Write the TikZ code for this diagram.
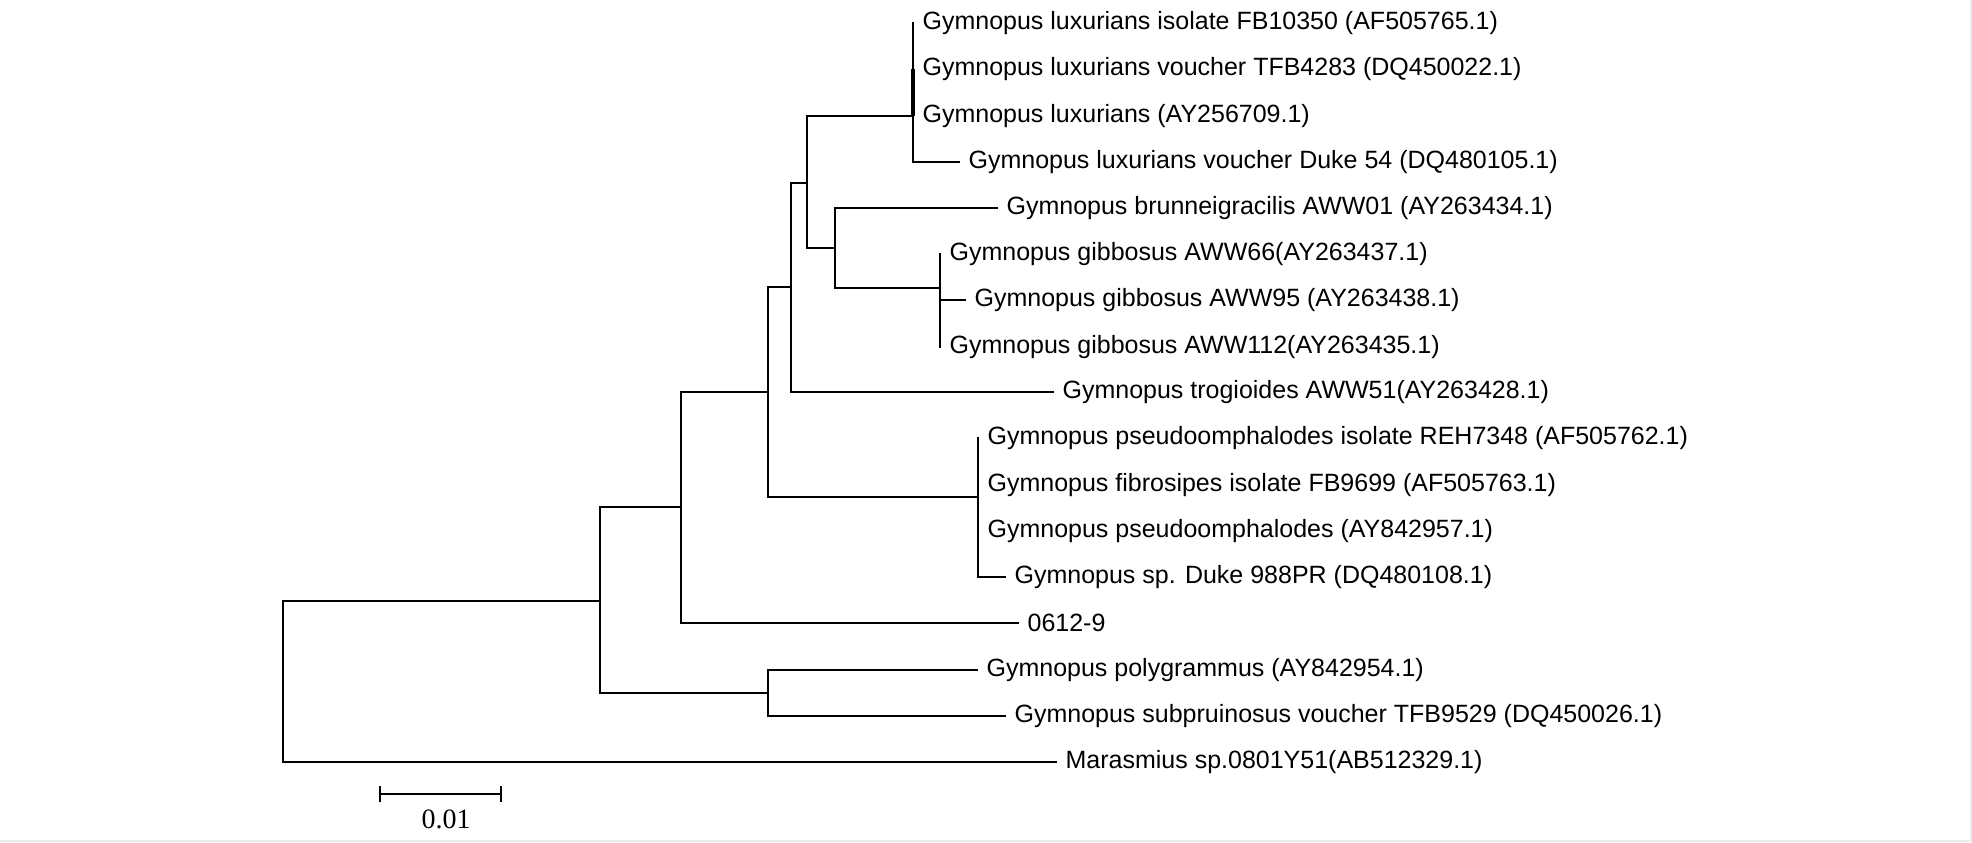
\documentclass[tikz,border=0pt]{standalone}
\usepackage{fontspec}
\setmainfont{Liberation Sans}
\newfontfamily\barfont{Liberation Serif}
\usepackage{tikz}
\usetikzlibrary{arrows.meta}

\tikzset{
  taxon/.style={anchor=west, inner xsep=4.6pt, inner ysep=0pt, font=\fontsize{12.5}{14}\selectfont},
  branch/.style={line width=0.8pt, line cap=rect}
}

\begin{document}
\begin{tikzpicture}[x=0.5pt, y=-0.5pt]
            \useasboundingbox (0,0) rectangle (1972,842);
            \draw[black!8, line width=0.8pt] (0,841) -- (1971,841) -- (1971,0);

            % inner nodes of the tree
            \coordinate (root) at (283,681);
            \coordinate (A) at (600,601);
            \coordinate (B) at (681,507);
            \coordinate (C) at (768,392);
            \coordinate (D) at (791,287);
            \coordinate (E) at (807,183);
            \coordinate (F) at (835,248);
            \coordinate (G) at (940,288);
            \coordinate (L) at (913,116);
            \coordinate (Q) at (978,497);
            \coordinate (P) at (768,693);

            % taxa
            \node[taxon] (t1) at (913,23) {Gymnopus luxurians isolate FB10350 (AF505765.1)};
            \node[taxon] (t2) at (913,69) {Gymnopus luxurians voucher TFB4283 (DQ450022.1)};
            \node[taxon] (t3) at (913,116) {Gymnopus luxurians (AY256709.1)};
            \node[taxon] (t4) at (959,162) {Gymnopus luxurians voucher Duke 54 (DQ480105.1)};
            \node[taxon] (t5) at (997,208) {Gymnopus brunneigracilis AWW01 (AY263434.1)};
            \node[taxon] (t6) at (940,254) {Gymnopus gibbosus AWW66(AY263437.1)};
            \node[taxon] (t7) at (965,300) {Gymnopus gibbosus AWW95 (AY263438.1)};
            \node[taxon] (t8) at (940,347) {Gymnopus gibbosus AWW112(AY263435.1)};
            \node[taxon] (t9) at (1053,392) {Gymnopus trogioides AWW51(AY263428.1)};
            \node[taxon] (t10) at (978,438) {Gymnopus pseudoomphalodes isolate REH7348 (AF505762.1)};
            \node[taxon] (t11) at (978,485) {Gymnopus fibrosipes isolate FB9699 (AF505763.1)};
            \node[taxon] (t12) at (978,531) {Gymnopus pseudoomphalodes (AY842957.1)};
            \node[taxon] (t13) at (1005,577) {Gymnopus sp. Duke 988PR (DQ480108.1)};
            \node[taxon] (t14) at (1018,623) {0612-9};
            \node[taxon] (t15) at (977,670) {Gymnopus polygrammus (AY842954.1)};
            \node[taxon] (t16) at (1005,716) {Gymnopus subpruinosus voucher TFB9529 (DQ450026.1)};
            \node[taxon] (t17) at (1056,762) {Marasmius sp.0801Y51(AB512329.1)};

            % branches
            \draw[branch] (root) |- (A);
            \draw[branch] (root) |- (t17);
            \draw[branch] (A) |- (B);
            \draw[branch] (A) |- (P);
            \draw[branch] (B) |- (C);
            \draw[branch] (B) |- (t14);
            \draw[branch] (C) |- (D);
            \draw[branch] (C) |- (Q);
            \draw[branch] (D) |- (E);
            \draw[branch] (D) |- (t9);
            \draw[branch] (E) |- (L);
            \draw[branch] (E) |- (F);
            \draw[branch] (F) |- (t5);
            \draw[branch] (F) |- (G);
            \draw[branch] (L) |- (t1);
            \draw[branch] (L) |- (t4);
            \draw[branch, line width=1.6pt, line cap=butt] (L) -- (L |- t2);
            \draw[branch] (G) |- (t6);
            \draw[branch] (G) |- (t7);
            \draw[branch] (G) |- (t8);
            \draw[branch] (Q) |- (t10);
            \draw[branch] (Q) |- (t13);
            \draw[branch] (P) |- (t15);
            \draw[branch] (P) |- (t16);

            % scale bar
            \coordinate (bar1) at (379,794);
            \coordinate (bar2) at (502,794);
            \draw[line width=0.8pt, {Bar[width=8pt]}-{Bar[width=8pt]}] (bar1) -- (bar2);
            \node[font=\barfont\fontsize{14}{16}\selectfont] (barlabel) at (446,819) {0.01};
        \end{tikzpicture}
\end{document}
